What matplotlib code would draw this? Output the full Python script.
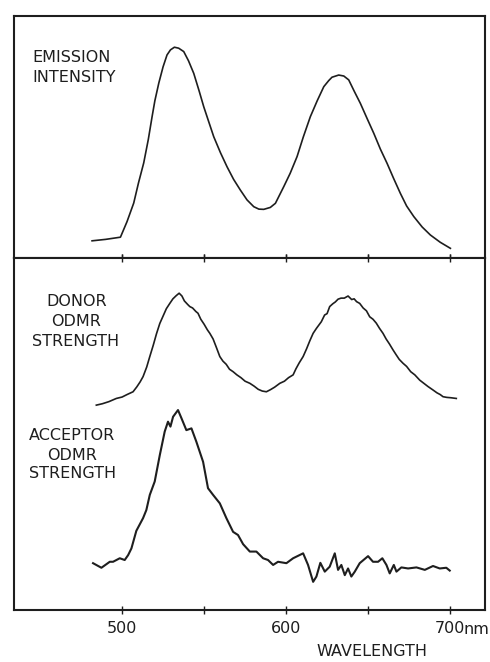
import matplotlib
matplotlib.use("Agg")
import matplotlib.pyplot as plt

plt.rcParams['font.family'] = ['DejaVu Sans']

# Emission spectrum (wavelength in nm, relative intensity)
emission_nm = [481.7, 490.0, 499.0, 503.0, 507.1, 510.0, 513.2, 516.0, 518.3, 520.0,
               522.4, 525.0, 527.4, 529.5, 531.9, 534.5, 537.6, 540.5, 543.7, 547.0,
               549.8, 552.5, 555.9, 560.0, 564.0, 568.0, 572.1, 576.2, 580.3, 583.4,
               586.4, 590.4, 593.5, 598.6, 602.5, 606.7, 610.5, 614.8, 619.0, 623.0,
               626.0, 628.0, 632.1, 635.2, 638.2, 641.5, 645.3, 649.5, 653.5, 657.5,
               661.6, 665.5, 669.7, 673.5, 677.9, 683.0, 688.0, 694.0, 700.2]
emission_val = [0.071, 0.077, 0.086, 0.150, 0.227, 0.310, 0.393, 0.490, 0.584, 0.650,
                0.723, 0.790, 0.839, 0.860, 0.871, 0.867, 0.853, 0.815, 0.763, 0.690,
                0.625, 0.570, 0.501, 0.435, 0.377, 0.325, 0.281, 0.240, 0.212, 0.202,
                0.201, 0.209, 0.226, 0.295, 0.350, 0.419, 0.500, 0.584, 0.650, 0.708,
                0.733, 0.747, 0.756, 0.752, 0.736, 0.690, 0.639, 0.575, 0.515, 0.450,
                0.391, 0.330, 0.267, 0.215, 0.171, 0.128, 0.095, 0.065, 0.040]

# Donor ODMR strength
donor_nm = [484.3, 488, 492, 496.5, 500, 503, 506.7, 509, 511, 512.8, 515, 516.9,
            519, 521, 523, 525, 527, 529.1, 531, 533, 534.8, 536.5, 538, 540,
            541.3, 543, 545, 546.3, 548, 550, 552, 553.5, 555.5, 557.5, 559.6,
            561.5, 563.5, 565.5, 567.7, 570, 572.5, 575, 577.9, 580.5, 583,
            585.5, 588, 590.5, 593, 596.2, 599, 601.5, 604.3, 606, 608, 610.4,
            612.5, 614.5, 616.5, 618.5, 621.5, 623.5, 625, 626.6, 628.5, 630,
            631.7, 633.5, 635.5, 637.8, 640, 641.5, 643, 644.9, 647, 649, 651,
            653, 655, 657, 659.1, 661, 663, 665.2, 667, 669, 671.3, 673.5, 676,
            678.5, 681.5, 684, 686.5, 689.6, 692, 694, 695.7, 698, 700.5, 703.8]
donor_val = [0.582, 0.586, 0.592, 0.601, 0.605, 0.612, 0.620, 0.634, 0.648, 0.663,
             0.690, 0.720, 0.752, 0.785, 0.814, 0.835, 0.856, 0.871, 0.884, 0.893,
             0.900, 0.892, 0.878, 0.868, 0.862, 0.858, 0.848, 0.843, 0.826, 0.812,
             0.796, 0.786, 0.770, 0.746, 0.720, 0.707, 0.698, 0.684, 0.677, 0.668,
             0.660, 0.650, 0.644, 0.636, 0.627, 0.622, 0.620, 0.626, 0.633, 0.644,
             0.650, 0.660, 0.668, 0.685, 0.702, 0.720, 0.742, 0.765, 0.786, 0.800,
             0.819, 0.838, 0.842, 0.862, 0.870, 0.875, 0.883, 0.886, 0.886, 0.892,
             0.882, 0.884, 0.876, 0.871, 0.858, 0.850, 0.833, 0.826, 0.815, 0.800,
             0.786, 0.770, 0.756, 0.739, 0.726, 0.712, 0.701, 0.692, 0.677, 0.668,
             0.653, 0.644, 0.635, 0.625, 0.617, 0.612, 0.606, 0.604, 0.603, 0.601]

# Acceptor ODMR strength
acceptor_nm = [482.3, 487.4, 492.5, 494.5, 498.6, 501.6, 503.7, 505.7, 508.7, 512.8,
               514.8, 516.9, 519.9, 523.0, 526.0, 528.0, 529.5, 531.1, 534.1, 536.2,
               539.2, 542.3, 545.3, 549.4, 552.4, 555.5, 559.6, 563.6, 567.7, 570.7,
               573.8, 577.9, 581.9, 586.0, 589.0, 592.1, 595.1, 600.2, 604.3, 610.4,
               613.4, 616.5, 618.5, 620.9, 623.6, 626.6, 629.7, 631.7, 633.7, 635.8,
               637.8, 639.8, 641.9, 644.9, 650.0, 653.0, 656.1, 658.7, 661.2, 663.2,
               665.7, 667.3, 670.3, 674.4, 679.5, 684.6, 689.6, 693.7, 697.7, 699.8]
acceptor_val = [0.133, 0.120, 0.137, 0.137, 0.147, 0.142, 0.156, 0.175, 0.225, 0.261,
                0.284, 0.327, 0.365, 0.440, 0.507, 0.535, 0.521, 0.549, 0.568, 0.545,
                0.511, 0.516, 0.478, 0.421, 0.346, 0.327, 0.303, 0.261, 0.222, 0.213,
                0.187, 0.166, 0.166, 0.147, 0.142, 0.128, 0.137, 0.133, 0.147, 0.161,
                0.128, 0.080, 0.095, 0.134, 0.109, 0.123, 0.161, 0.114, 0.128, 0.099,
                0.118, 0.095, 0.109, 0.133, 0.153, 0.137, 0.137, 0.147, 0.128, 0.104,
                0.128, 0.109, 0.121, 0.118, 0.121, 0.114, 0.125, 0.118, 0.120, 0.112]

tick_positions = [500, 550, 600, 650, 700]
tick_labels = ["500", "", "600", "", "700"]

W, H = 490, 662
ink = "#1e1e1e"
fig = plt.figure(figsize=(W / 100, H / 100), dpi=100)
fig.patch.set_facecolor("white")

x_lo, x_hi = 434.1, 721.3
left, right = 14 / W, 485 / W

ax_top = fig.add_axes([left, 1 - 258 / H, right - left, 242 / H])
ax_bot = fig.add_axes([left, 1 - 610 / H, right - left, 352 / H])

for ax in (ax_top, ax_bot):
    ax.set_xlim(x_lo, x_hi)
    ax.set_ylim(0, 1)
    ax.set_yticks([])
    ax.set_xticks(tick_positions)
    for sp in ax.spines.values():
        sp.set_linewidth(1.5)
        sp.set_color(ink)

ax_top.plot(emission_nm, emission_val, color=ink, lw=1.2,
            solid_joinstyle="round")
ax_top.tick_params(axis="x", direction="in", length=3, width=1, color=ink,
                   labelbottom=False)

ax_bot.plot(donor_nm, donor_val, color=ink, lw=1.2)
ax_bot.plot(acceptor_nm, acceptor_val, color=ink, lw=1.5)
ax_bot.set_xticklabels(tick_labels)
ax_bot.tick_params(axis="x", direction="inout", length=6, width=1, color=ink,
                   labelsize=11.5, pad=5, labelcolor=ink, top=True)

fs = 11.5


def label(x, y, s, ha="left"):
    fig.text(x / W, 1 - y / H, s, ha=ha, va="center", fontsize=fs, color=ink)


label(32, 58, "EMISSION")
label(32, 77, "INTENSITY")
label(77, 301, "DONOR", "center")
label(76, 321, "ODMR", "center")
label(76, 341, "STRENGTH", "center")
label(72, 435, "ACCEPTOR", "center")
label(72, 455, "ODMR", "center")
label(73, 474, "STRENGTH", "center")
label(463, 629, "nm")
label(372, 652, "WAVELENGTH", "center")

fig.savefig("out.png", dpi=100, facecolor="white")
